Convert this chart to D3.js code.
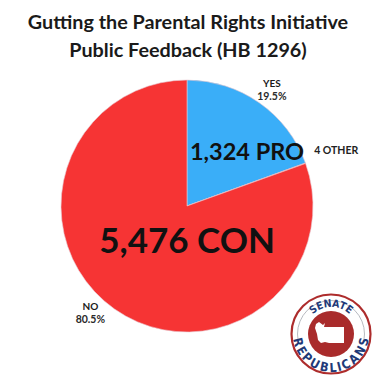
<!DOCTYPE html>
<html>
<head>
<meta charset="utf-8">
<script src="https://cdn.jsdelivr.net/npm/d3@7"></script>
<style>
  body { margin: 0; background: #fff; }
  text { font-family: Lato, "Open Sans", sans-serif; }
  .badge { font-family: "DejaVu Sans Condensed", "DejaVu Sans", sans-serif; font-stretch: condensed; }
</style>
</head>
<body>
<script>
// data
let categories = ["PRO", "OTHER", "CON"];
let counts = [1324, 4, 5476];
let colors = ["#3aaef8", "#f63434", "#f63434"];
let answers = ["YES", "NO"];
let percents = ["19.5%", "80.5%"];
let titleLines = ["Gutting the Parental Rights Initiative", "Public Feedback (HB 1296)"];

let W = 375, H = 375;
let cx = 187, cy = 206, r = 126;

let svg = d3.select("body").append("svg")
    .attr("width", W)
    .attr("height", H);

// title
svg.selectAll("text.title").data(titleLines)
  .enter()
    .append("text")
    .attr("class", "title")
    .attr("x", 188)
    .attr("y", function(d, i){ return 29 + i * 28; })
    .attr("text-anchor", "middle")
    .attr("font-size", 19.8)
    .attr("font-weight", 700)
    .attr("fill", "#1a1a1a")
    .text(function(d){ return d; });

let rows = categories.map(function(c, i){
  return { name: c, value: counts[i], color: colors[i] };
});

let pie = d3.pie().sort(null).value(function(d){ return d.value; });
let arc = d3.arc().innerRadius(0).outerRadius(r);
let slices = pie(rows);

let g = svg.append("g").attr("transform", "translate(" + cx + "," + cy + ")");

g.selectAll("path").data(slices)
  .enter()
    .append("path")
    .attr("d", arc)
    .attr("fill", function(d){ return d.data.color; })
    .attr("stroke", "#e8c8d0")
    .attr("stroke-width", 0.6);

// polar helper for labels
function polar(angle, rad){
  return [Math.sin(angle) * rad, -Math.cos(angle) * rad];
}

let pro = slices[0], other = slices[1], con = slices[2];

// big count labels
let proPos = polar(0.83, 80);
g.append("text")
  .attr("x", proPos[0] + 1).attr("y", proPos[1] + 8)
  .attr("text-anchor", "middle")
  .attr("font-size", 23.5)
  .attr("font-weight", 700)
  .attr("fill", "#111")
  .text(d3.format(",")(pro.data.value) + " " + pro.data.name);

let conPos = polar(3.14, 38);
g.append("text")
  .attr("x", conPos[0]).attr("y", conPos[1] + 9)
  .attr("text-anchor", "middle")
  .attr("font-size", 35)
  .attr("font-weight", 700)
  .attr("fill", "#111")
  .text(d3.format(",")(con.data.value) + " " + con.data.name);

let otherPos = polar(other.startAngle + 0.0, r + 4);
g.append("text")
  .attr("x", otherPos[0] + 5).attr("y", otherPos[1] - 8)
  .attr("text-anchor", "start")
  .attr("font-size", 10.5)
  .attr("font-weight", 700)
  .attr("fill", "#222")
  .text(other.data.value + " " + other.data.name);

// yes / no outside labels
let yesPos = polar(0.62, r + 20);
let noPos = polar(3.14 + 0.72 + 0.03, r + 16);
let outside = [
  { a: answers[0], p: percents[0], x: yesPos[0], y: yesPos[1] },
  { a: answers[1], p: percents[1], x: noPos[0], y: noPos[1] }
];
let og = g.selectAll("g.out").data(outside)
  .enter()
    .append("g")
    .attr("class", "out")
    .attr("transform", function(d){ return "translate(" + d.x + "," + d.y + ")"; });
og.append("text")
  .attr("text-anchor", "middle")
  .attr("y", 0)
  .attr("font-size", 10)
  .attr("font-weight", 700)
  .attr("fill", "#1a1a1a")
  .text(function(d){ return d.a; });
og.append("text")
  .attr("text-anchor", "middle")
  .attr("y", 12.5)
  .attr("font-size", 10.5)
  .attr("font-weight", 700)
  .attr("fill", "#2a2a2a")
  .text(function(d){ return d.p; });

// senate republicans badge
let logo = svg.append("g").attr("transform", "translate(331,334)");
logo.append("circle").attr("r", 39.5).attr("fill", "#fff").attr("stroke", "#ad2c2c").attr("stroke-width", 2.2);
logo.append("circle").attr("r", 33.5).attr("fill", "none").attr("stroke", "#a4a8b0").attr("stroke-width", 0.8);
logo.append("circle").attr("r", 23).attr("fill", "#a92b2b");

logo.append("path")
  .attr("d", "M-15,-10 L-12,-12 L-8,-9 L-6,-11 L-7,-7 L13,-7 L13,9 L-2,9 L-6,8 L-10,9 L-13,6 L-14,0 L-16,-6 Z")
  .attr("fill", "#fff");

let defs = svg.append("defs");
defs.append("path").attr("id", "topArc").attr("d", "M-27,0 A27,27 0 0,1 27,0");
defs.append("path").attr("id", "botArc").attr("d", "M-30,0 A30,30 0 0,0 30,0");

// white backing for the bottom word so it breaks the grey ring
logo.append("path")
  .attr("d", d3.arc().innerRadius(25).outerRadius(37).startAngle(Math.PI / 2 + 0.25).endAngle(Math.PI * 1.5 - 0.25)())
  .attr("fill", "#fff");

logo.append("text")
  .attr("class", "badge")
  .attr("font-size", 10.5)
  .attr("font-weight", 700)
  .attr("fill", "#1f3a78")
  .append("textPath")
    .attr("href", "#topArc")
    .attr("startOffset", "50%")
    .attr("text-anchor", "middle")
    .text("SENATE");

logo.append("text")
  .attr("class", "badge")
  .attr("font-size", 12.5)
  .attr("font-weight", 700)
  .attr("fill", "#1f3a78")
  .attr("dy", 8)
  .append("textPath")
    .attr("href", "#botArc")
    .attr("startOffset", "50%")
    .attr("text-anchor", "middle")
    .text("REPUBLICANS");
</script>
</body>
</html>
